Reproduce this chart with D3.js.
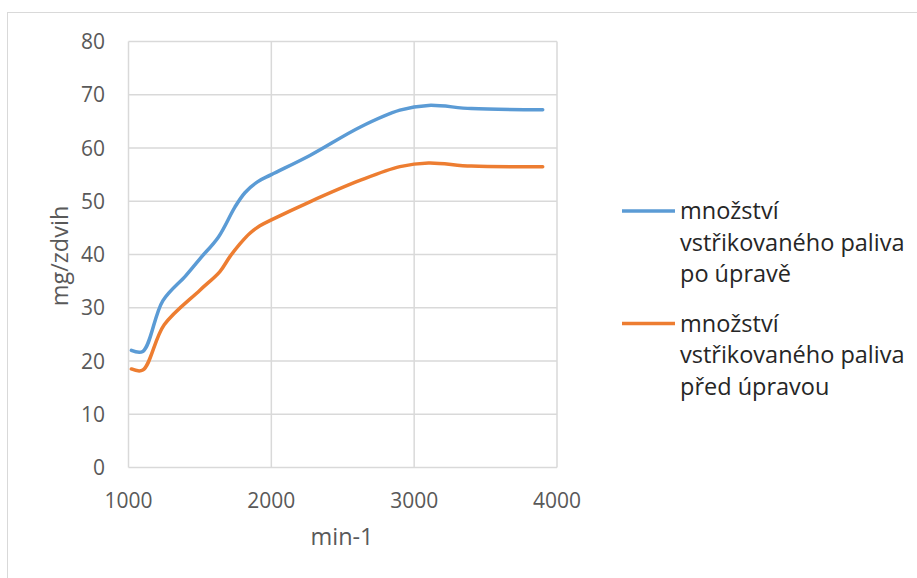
<!DOCTYPE html>
<html>
<head>
<meta charset="utf-8">
<script src="https://cdn.jsdelivr.net/npm/d3@7"></script>
<style>
  body { margin: 0; background: #fff; }
  svg text { font-family: "Open Sans", sans-serif; }
</style>
</head>
<body>
<svg id="chart" width="917" height="578"></svg>
<script>
// rpm values and injected fuel (mg/stroke)
const rpmAfter = [1020, 1100, 1240, 1400, 1500, 1630, 1745, 1815, 1900, 2000, 2270, 2620, 2900, 3100, 3400, 3900];
const fuelAfter = [22.0, 21.8, 31.3, 36.0, 39.2, 43.3, 48.9, 51.6, 53.6, 55.0, 58.6, 63.9, 67.1, 68.0, 67.4, 67.2];
const rpmBefore = [1020, 1100, 1250, 1500, 1640, 1710, 1780, 1850, 1920, 2000, 2270, 2620, 2900, 3100, 3400, 3900];
const fuelBefore = [18.5, 18.3, 26.8, 33.3, 36.8, 39.6, 42.0, 44.0, 45.4, 46.5, 49.9, 53.9, 56.5, 57.2, 56.6, 56.5];
const seriesNames = [
  ["množství", "vstřikovaného paliva", "po úpravě"],
  ["množství", "vstřikovaného paliva", "před úpravou"]
];
const seriesColors = ["#5b9bd5", "#ed7d31"];
const xTicks = [1000, 2000, 3000, 4000];
const yTicks = [0, 10, 20, 30, 40, 50, 60, 70, 80];

const svg = d3.select("#chart");
const margin = {left: 128.5, top: 41.5, right: 917 - 557, bottom: 578 - 467.5};

// outer chart border (only left/top visible)
svg.append("rect")
  .attr("x", 7.5).attr("y", 12.5)
  .attr("width", 950).attr("height", 600)
  .attr("fill", "none").attr("stroke", "#d9d9d9").attr("stroke-width", 1);

const x = d3.scaleLinear().domain([1000, 4000]).range([margin.left, 917 - margin.right]);
const y = d3.scaleLinear().domain([0, 80]).range([578 - margin.bottom, margin.top]);

const grid = svg.append("g");
grid.selectAll(".hg").data(yTicks).enter().append("line")
  .attr("x1", x(1000)).attr("x2", x(4000))
  .attr("y1", d => y(d)).attr("y2", d => y(d))
  .attr("stroke", "#d9d9d9").attr("stroke-width", 1.5);
grid.selectAll(".vg").data(xTicks).enter().append("line")
  .attr("x1", d => x(d)).attr("x2", d => x(d))
  .attr("y1", y(0)).attr("y2", y(80))
  .attr("stroke", "#d9d9d9").attr("stroke-width", 1.5);

// axis labels
svg.append("g").selectAll("text").data(yTicks).enter().append("text")
  .attr("x", 105).attr("y", d => y(d) + 7.5)
  .attr("text-anchor", "end").attr("font-size", 21).attr("fill", "#595959")
  .text(d => d);
svg.append("g").selectAll("text").data(xTicks).enter().append("text")
  .attr("x", d => x(d)).attr("y", 507.5)
  .attr("text-anchor", "middle").attr("font-size", 21).attr("fill", "#595959")
  .text(d => d);

svg.append("text")
  .attr("x", 342).attr("y", 545)
  .attr("text-anchor", "middle").attr("font-size", 23.5).attr("fill", "#595959")
  .text("min-1");
svg.append("text")
  .attr("transform", "translate(68,256) rotate(-90)")
  .attr("text-anchor", "middle").attr("font-size", 23.5).attr("fill", "#595959")
  .text("mg/zdvih");

// lines
const line = d3.line()
  .x(d => x(d[0])).y(d => y(d[1]))
  .curve(d3.curveCatmullRom.alpha(0.5));
const series = [d3.zip(rpmAfter, fuelAfter), d3.zip(rpmBefore, fuelBefore)];
svg.append("g").selectAll("path").data(series).enter().append("path")
  .attr("d", line)
  .attr("fill", "none")
  .attr("stroke", (d, i) => seriesColors[i])
  .attr("stroke-width", 3.5)
  .attr("stroke-linecap", "round");

// legend
const legend = svg.append("g");
const entry = legend.selectAll("g").data(seriesNames).enter().append("g")
  .attr("transform", (d, i) => `translate(0, ${i * 112.5})`);
entry.append("line")
  .attr("x1", 622).attr("x2", 675).attr("y1", 211).attr("y2", 211)
  .attr("stroke", (d, i) => seriesColors[i]).attr("stroke-width", 3.5);
entry.selectAll("text").data(d => d).enter().append("text")
  .attr("x", 680).attr("y", (d, j) => 219 + j * 31.5)
  .attr("font-size", 23.5).attr("fill", "#262626")
  .text(d => d);
</script>
</body>
</html>
